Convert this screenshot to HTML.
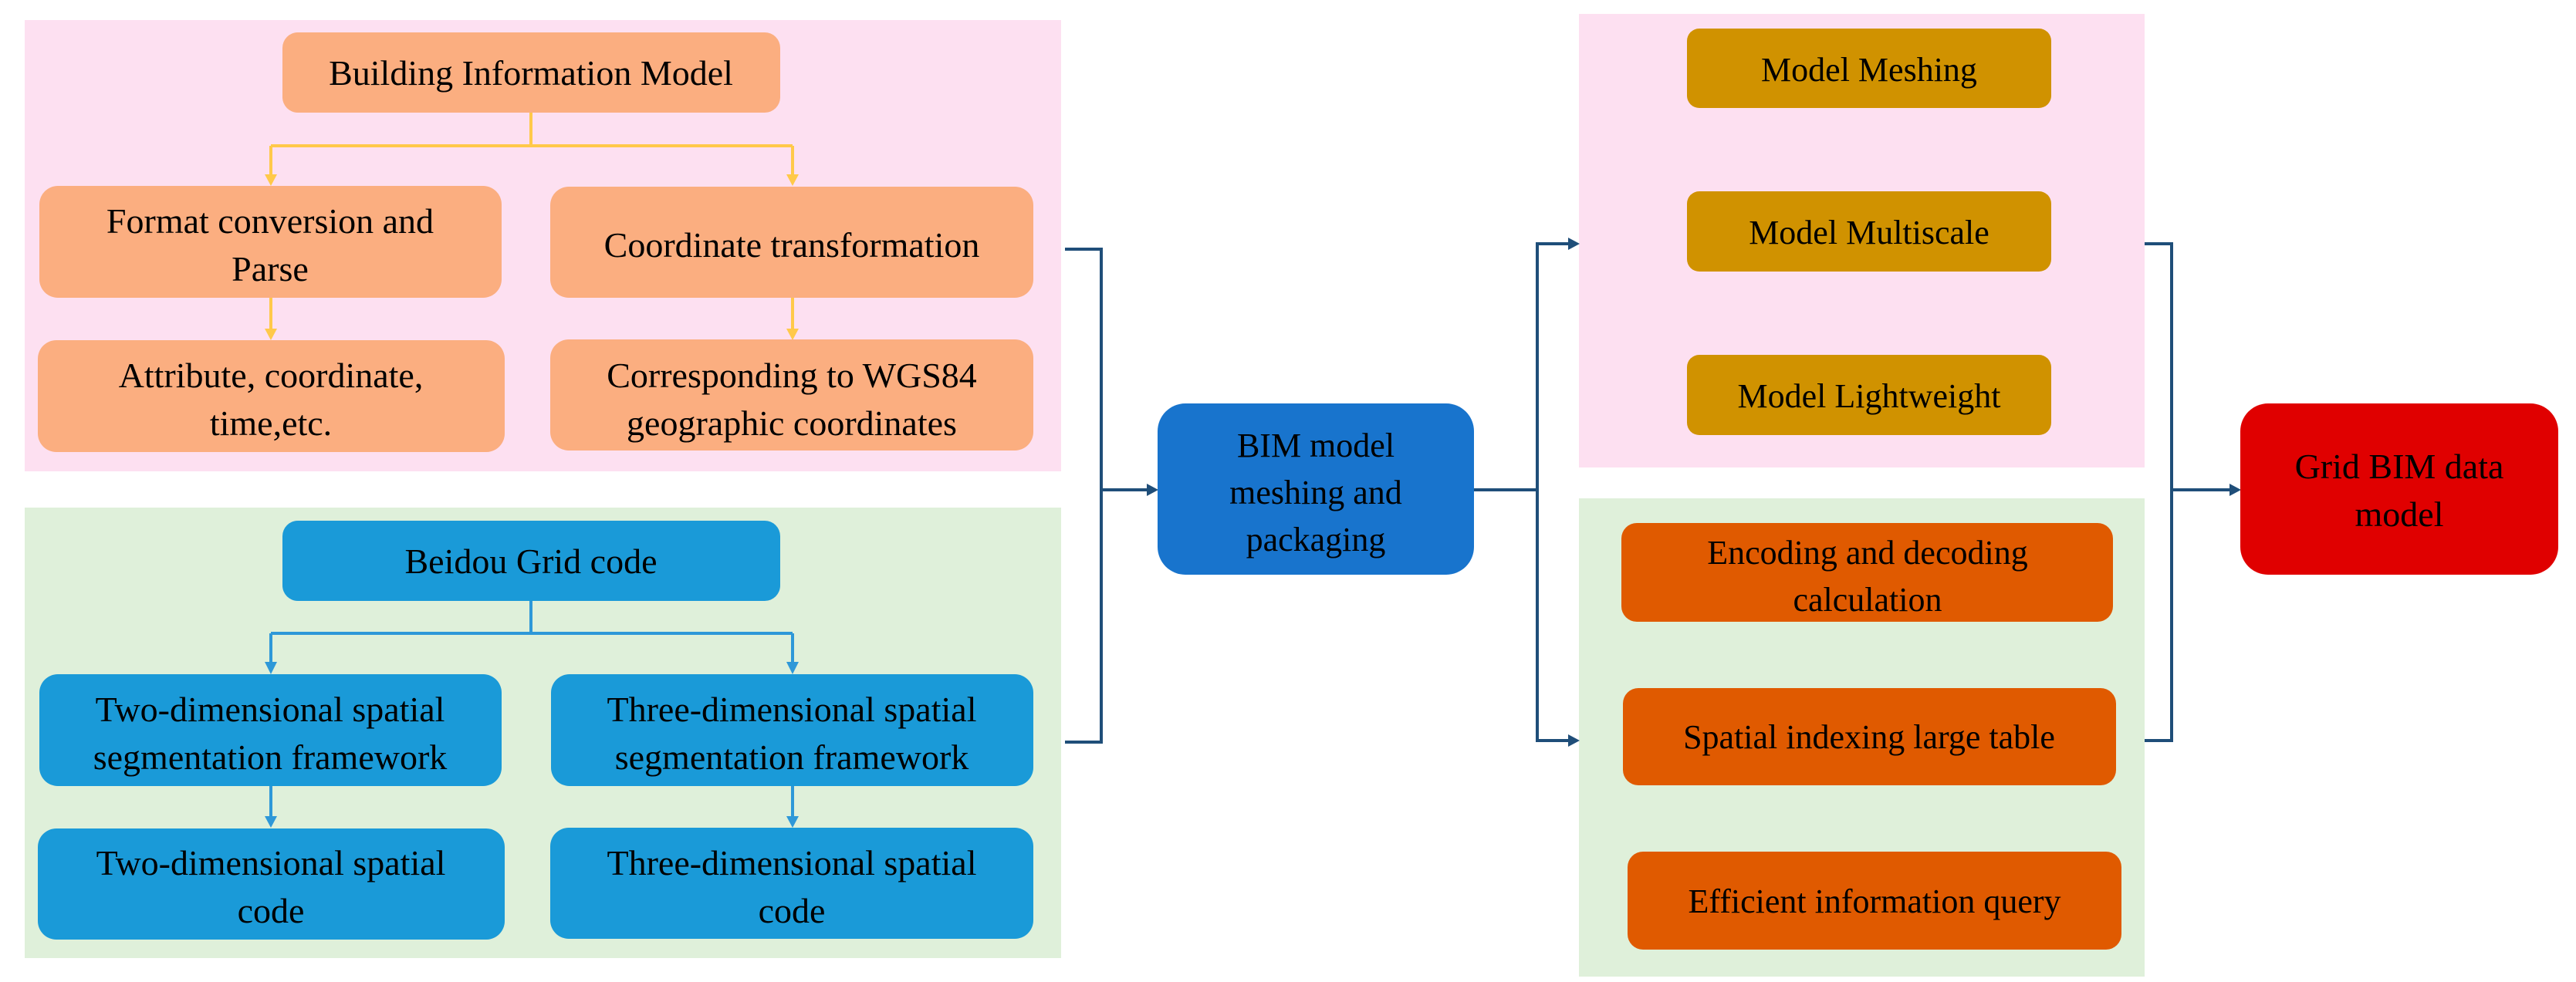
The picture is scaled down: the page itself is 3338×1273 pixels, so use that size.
<!DOCTYPE html>
<html><head><meta charset="utf-8"><style>
html,body{margin:0;padding:0;background:#fff;}
svg{display:block;}
svg text{font-family:"Liberation Serif","Noto Serif CJK SC","DejaVu Serif",serif;fill:#000;text-anchor:middle;}
</style></head><body>
<svg width="3338" height="1273" viewBox="0 0 3338 1273" xmlns="http://www.w3.org/2000/svg">
<rect x="32" y="26" width="1343" height="585" fill="#fde0f1"/>
<rect x="32" y="658" width="1343" height="584" fill="#dff0da"/>
<rect x="2046" y="18" width="733" height="588" fill="#fde0f1"/>
<rect x="2046" y="646" width="733" height="620" fill="#dff0da"/>

<g stroke="#ffc94a" stroke-width="4" fill="none">
<path d="M688 146 V189 M351 189 H1027 M351 189 V230 M1027 189 V230 M351 386 V430 M1027 386 V430"/>
</g>
<g fill="#ffc94a">
<path d="M343 226 L359 226 L351 241 z M1019 226 L1035 226 L1027 241 z M343 426 L359 426 L351 441 z M1019 426 L1035 426 L1027 441 z"/>
</g>
<g stroke="#2e98d8" stroke-width="4" fill="none">
<path d="M688 779 V821 M351 821 H1027 M351 821 V862 M1027 821 V862 M351 1019 V1062 M1027 1019 V1062"/>
</g>
<g fill="#2e98d8">
<path d="M343 858 L359 858 L351 874 z M1019 858 L1035 858 L1027 874 z M343 1058 L359 1058 L351 1073 z M1019 1058 L1035 1058 L1027 1073 z"/>
</g>

<g stroke="#1f4e79" stroke-width="4" fill="none">
<path d="M1380 323 H1427 V962 H1380 M1427 635 H1490"/>
<path d="M1910 635 H1992 M2036 316 H1992 V960 H2036"/>
<path d="M2779 316 H2814 V960 H2779 M2814 635 H2893"/>
</g>
<g fill="#1f4e79">
<path d="M1486 627 L1501 635 L1486 643 z M2032 308 L2047 316 L2032 324 z M2032 952 L2047 960 L2032 968 z M2889 627 L2904 635 L2889 643 z"/>
</g>

<g fill="#fbae80">
<rect x="366" y="42" width="645" height="104" rx="20"/>
<rect x="51" y="241" width="599" height="145" rx="24"/>
<rect x="713" y="242" width="626" height="144" rx="24"/>
<rect x="49" y="441" width="605" height="145" rx="24"/>
<rect x="713" y="440" width="626" height="144" rx="24"/>
</g>
<g font-size="46">
<text x="688" y="110">Building Information Model</text>
<text x="350" y="302">Format conversion and</text>
<text x="350" y="364">Parse</text>
<text x="1026" y="333">Coordinate transformation</text>
<text x="351" y="502">Attribute, coordinate,</text>
<text x="351" y="564">time,etc.</text>
<text x="1026" y="502">Corresponding to WGS84</text>
<text x="1026" y="564">geographic coordinates</text>
</g>

<g fill="#1a9ad8">
<rect x="366" y="675" width="645" height="104" rx="20"/>
<rect x="51" y="874" width="599" height="145" rx="24"/>
<rect x="714" y="874" width="625" height="145" rx="24"/>
<rect x="49" y="1074" width="605" height="144" rx="24"/>
<rect x="713" y="1073" width="626" height="144" rx="24"/>
</g>
<g font-size="46">
<text x="688" y="743">Beidou Grid code</text>
<text x="350" y="935">Two-dimensional spatial</text>
<text x="350" y="997">segmentation framework</text>
<text x="1026" y="935">Three-dimensional spatial</text>
<text x="1026" y="997">segmentation framework</text>
<text x="351" y="1134">Two-dimensional spatial</text>
<text x="351" y="1196">code</text>
<text x="1026" y="1134">Three-dimensional spatial</text>
<text x="1026" y="1196">code</text>
</g>

<rect x="1500" y="523" width="410" height="222" rx="36" fill="#1874cd"/>
<g font-size="44">
<text x="1705" y="592">BIM model</text>
<text x="1705" y="653">meshing and</text>
<text x="1705" y="714">packaging</text>
</g>

<g fill="#d09200">
<rect x="2186" y="37" width="472" height="103" rx="16"/>
<rect x="2186" y="248" width="472" height="104" rx="16"/>
<rect x="2186" y="460" width="472" height="104" rx="16"/>
</g>
<g font-size="44">
<text x="2422" y="105">Model Meshing</text>
<text x="2422" y="316">Model Multiscale</text>
<text x="2422" y="528">Model Lightweight</text>
</g>

<g fill="#e05a00">
<rect x="2101" y="678" width="637" height="128" rx="20"/>
<rect x="2103" y="892" width="639" height="126" rx="20"/>
<rect x="2109" y="1104" width="640" height="127" rx="20"/>
</g>
<g font-size="44">
<text x="2420" y="731">Encoding and decoding</text>
<text x="2420" y="792">calculation</text>
<text x="2422" y="970">Spatial indexing large table</text>
<text x="2429" y="1183">Efficient information query</text>
</g>

<rect x="2903" y="523" width="412" height="222" rx="36" fill="#e00000"/>
<g font-size="46">
<text x="3109" y="620">Grid BIM data</text>
<text x="3109" y="682">model</text>
</g>
</svg>
</body></html>
